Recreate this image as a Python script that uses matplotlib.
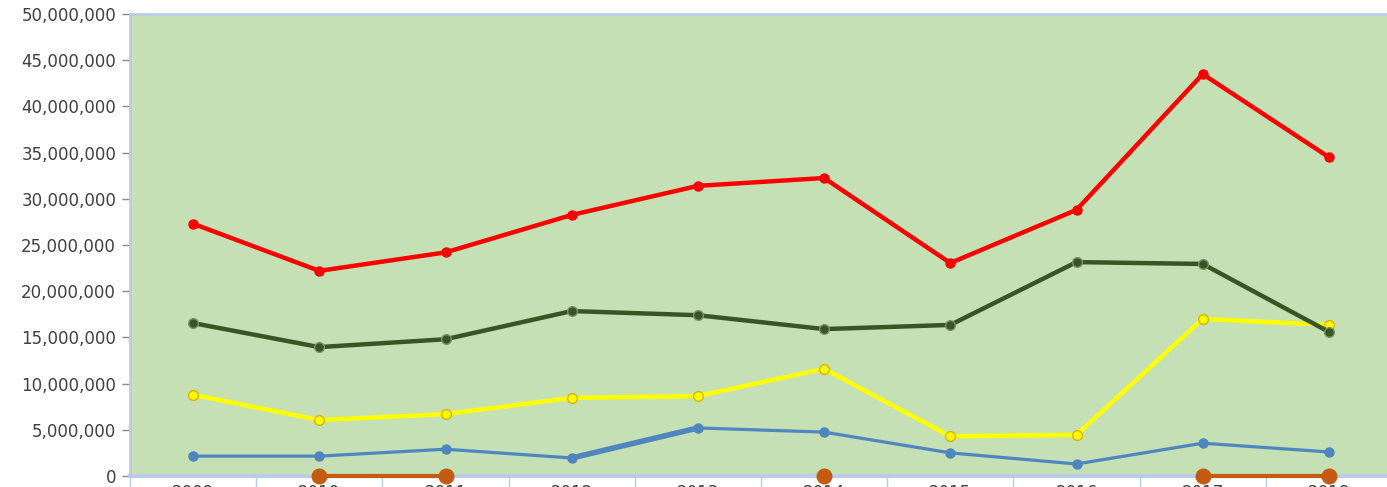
import matplotlib.pyplot as plt
import numpy as np

years = ["2009", "2010", "2011", "2012", "2013", "2014", "2015", "2016", "2017", "2018"]

red_vals = [27.3, 22.2, 24.2, 28.25, 31.4, 32.25, 23.05, 28.8, 43.5, 34.5]
green_vals = [16.55, 13.95, 14.8, 17.85, 17.4, 15.9, 16.35, 23.15, 22.95, 15.6]
yellow_vals = [8.8, 6.05, 6.7, 8.45, 8.65, 11.6, 4.3, 4.45, 17.0, 16.35]
blue_vals = [2.15, 2.15, 2.9, 1.95, 5.2, 4.75, 2.5, 1.3, 3.55, 2.6]
blue2_vals = [np.nan, np.nan, np.nan, 1.95, 5.2, np.nan, np.nan, np.nan, np.nan, np.nan]
orange_vals = [np.nan, 0, 0, np.nan, np.nan, 0, np.nan, np.nan, 0, 0]

scale = 1e6
x = np.arange(len(years))

fig = plt.figure(figsize=(13.87, 4.87), dpi=100)
ax = fig.add_axes([130 / 1387, 11 / 487, 1262 / 1387, 462 / 487])
ax.set_facecolor("#c5e0b4")

def s(v):
    return np.array(v, dtype=float) * scale

ax.plot(x, s(blue2_vals), color="#4f86c0", lw=4, solid_capstyle="round", zorder=3)
ax.plot(x, s(blue_vals), color="#4f86c0", lw=2.3, marker="o", ms=6.5,
        mfc="#4f86c0", mec="#4f86c0", zorder=3)
ax.plot(x, s(yellow_vals), color="#ffff00", lw=3.2, marker="o", ms=7,
        mfc="#ffff00", mec="#e0b000", mew=1, zorder=4)
ax.plot(x, s(green_vals), color="#375623", lw=3.2, marker="o", ms=7,
        mfc="#375623", mec="#7f8f70", mew=1, zorder=4)
ax.plot(x, s(red_vals), color="#ff0000", lw=3.2, marker="o", ms=6.5,
        mfc="#ff0000", mec="#ff0000", zorder=5)
ax.plot(x, s(orange_vals), color="#c55a11", lw=3, marker="o", ms=10.5,
        mfc="#c55a11", mec="#c55a11", zorder=6, clip_on=False)

ax.set_xlim(-0.5, len(years) - 0.5)
ax.set_ylim(0, 50e6)
ax.set_yticks(np.arange(0, 50e6 + 1, 5e6))
ax.set_yticklabels(["{:,}".format(int(v)) for v in np.arange(0, 50e6 + 1, 5e6)])

ax.set_xticks(x)
ax.set_xticklabels(years)
ax.set_xticks(np.arange(-0.5, len(years)), minor=True)
ax.tick_params(axis="x", which="major", length=0, labelsize=12, colors="#404040", pad=6)
ax.tick_params(axis="x", which="minor", length=14, width=1, color="#b9cde5")
ax.tick_params(axis="y", length=6, width=1, color="#8c8c8c", labelsize=12,
               labelcolor="#404040", pad=4)

for side in ["left", "top"]:
    ax.spines[side].set_color("#b9cde5")
    ax.spines[side].set_linewidth(2)
ax.spines["bottom"].set_color("#b9cde5")
ax.spines["bottom"].set_linewidth(3)
ax.spines["right"].set_visible(False)

fig.savefig("out.png", dpi=100)
